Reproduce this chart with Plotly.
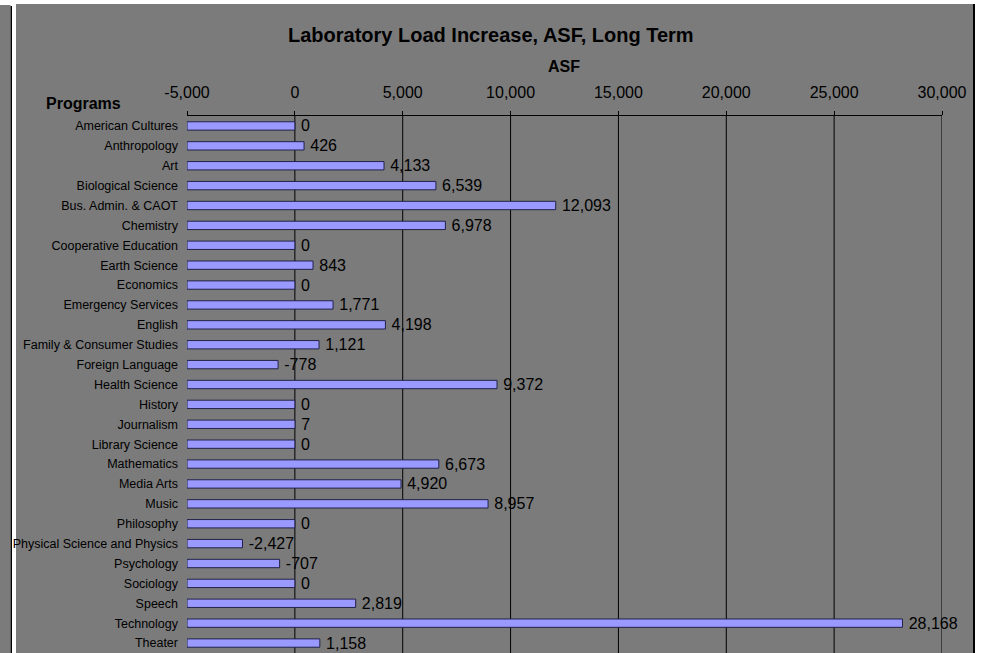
import plotly.graph_objects as go

# Programs and their long-term laboratory load increase (ASF)
programs = [
    "American Cultures", "Anthropology", "Art", "Biological Science",
    "Bus. Admin. & CAOT", "Chemistry", "Cooperative Education", "Earth Science",
    "Economics", "Emergency Services", "English", "Family & Consumer Studies",
    "Foreign Language", "Health Science", "History", "Journalism",
    "Library Science", "Mathematics", "Media Arts", "Music", "Philosophy",
    "Physical Science and Physics", "Psychology", "Sociology", "Speech",
    "Technology", "Theater",
]
asf_increase = [
    0, 426, 4133, 6539, 12093, 6978, 0, 843, 0, 1771, 4198, 1121, -778,
    9372, 0, 7, 0, 6673, 4920, 8957, 0, -2427, -707, 0, 2819, 28168, 1158,
]
tick_values = [-5000, 0, 5000, 10000, 15000, 20000, 25000, 30000]
tick_labels = ["-5,000", "0", "5,000", "10,000", "15,000", "20,000", "25,000", "30,000"]

# The category axis crosses the value axis at its minimum, so bars grow from there
axis_min, axis_max = -5000, 30000

W, H = 983, 653
PL, PR, PT, PB = 187, 942, 116, 653  # plot area in pixels
BG = "#7b7b7b"
FONT = "Liberation Sans, Arial, sans-serif"


def px(x):
    return (x - PL) / (PR - PL)


def py(y):
    return 1 - (y - PT) / (PB - PT)


fig = go.Figure()
fig.add_trace(go.Bar(
    y=programs,
    x=[v - axis_min for v in asf_increase],
    base=axis_min,
    orientation="h",
    marker=dict(color="#9999FF", line=dict(color="#22224a", width=1)),
    text=["\u2009" + f"{v:,}" for v in asf_increase],
    textposition="outside",
    constraintext="none",
    cliponaxis=False,
    textfont=dict(family=FONT, size=16, color="black"),
    hoverinfo="skip",
))

shapes = [
    # left panel strip and its edge
    dict(type="rect", xref="paper", yref="paper", x0=px(0), x1=px(10.5),
         y0=py(5), y1=py(700), fillcolor=BG, line_width=0, layer="below"),
    dict(type="rect", xref="paper", yref="paper", x0=px(10.5), x1=px(12),
         y0=py(6), y1=py(700), fillcolor="black", line_width=0, layer="below"),
    # chart area background and right edge
    dict(type="rect", xref="paper", yref="paper", x0=px(16), x1=px(973),
         y0=py(4), y1=py(700), fillcolor=BG, line_width=0, layer="below"),
    dict(type="rect", xref="paper", yref="paper", x0=px(973), x1=px(975),
         y0=py(4), y1=py(700), fillcolor="black", line_width=0, layer="below"),
]
# vertical gridlines (none at the axis minimum)
for v in tick_values[1:]:
    shapes.append(dict(type="line", xref="x", yref="paper", x0=v, x1=v,
                       y0=0, y1=1, line=dict(color="black", width=1), layer="below"))

annotations = [
    dict(text="<b>Laboratory Load Increase, ASF, Long Term</b>", x=px(490.5), y=py(35),
         xref="paper", yref="paper", xanchor="center", yanchor="middle",
         showarrow=False, font=dict(family=FONT, size=20, color="black")),
    dict(text="<b>ASF</b>", x=px(564), y=py(66), xref="paper", yref="paper",
         xanchor="center", yanchor="middle", showarrow=False,
         font=dict(family=FONT, size=16, color="black")),
    dict(text="<b>Programs</b>", x=px(44), y=py(103), xref="paper", yref="paper",
         xanchor="left", yanchor="middle", showarrow=False,
         font=dict(family=FONT, size=16, color="black")),
]

fig.update_layout(
    width=W, height=H,
    margin=dict(l=PL, r=W - PR, t=PT, b=H - PB),
    paper_bgcolor="white",
    plot_bgcolor="rgba(0,0,0,0)",
    showlegend=False,
    bargap=0.58,
    shapes=shapes,
    annotations=annotations,
    font=dict(family=FONT, color="black"),
    xaxis=dict(
        side="top", range=[axis_min, axis_max], tickvals=tick_values,
        ticktext=tick_labels, showgrid=False, zeroline=False,
        showline=True, linecolor="black", linewidth=1,
        ticks="outside", ticklen=4, tickcolor="black",
        ticklabelstandoff=7, tickfont=dict(family=FONT, size=16, color="black"),
    ),
    yaxis=dict(
        autorange="reversed", showgrid=False, zeroline=False, showline=False,
        ticks="", ticklabelstandoff=8,
        tickfont=dict(family=FONT, size=12.5, color="black"),
    ),
)

fig.write_html("out.html")
